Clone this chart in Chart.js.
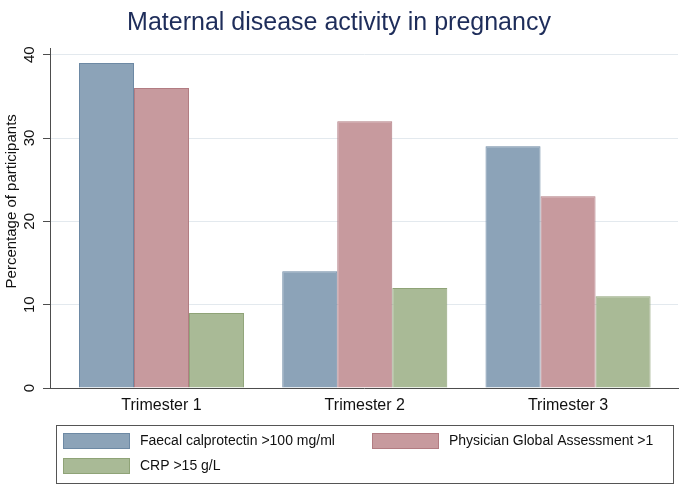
<!DOCTYPE html>
<html>
<head>
<meta charset="utf-8">
<script src="https://cdn.jsdelivr.net/npm/chart.js@4.4.0/dist/chart.umd.min.js"></script>
<style>
  html, body { margin: 0; padding: 0; background: #fff; }
</style>
</head>
<body>
<canvas id="chart" width="688" height="487"></canvas>
<script>
const categories = ['Trimester 1', 'Trimester 2', 'Trimester 3'];
const faecalCalprotectin = [39, 14, 29];
const physicianAssessment = [36, 32, 23];
const crp = [9, 12, 11];
const seriesNames = ['Faecal calprotectin >100 mg/ml', 'Physician Global Assessment >1', 'CRP >15 g/L'];
const yTicks = [0, 10, 20, 30, 40];

const FONT = '"Liberation Sans", Arial, Helvetica, sans-serif';

function toPoints(values) {
  return values.map((v, i) => ({x: i + 1, y: v}));
}

// stata style legend: framed box under the axis, two columns
const boxLegend = {
  id: 'boxLegend',
  afterDraw(chart) {
    const ctx = chart.ctx;
    const area = chart.chartArea;
    const left = area.left + 6, right = area.right - 5;
    const top = chart.scales.x.bottom + 7, height = 58;
    ctx.save();
    ctx.strokeStyle = '#555';
    ctx.lineWidth = 1;
    ctx.strokeRect(Math.round(left) + 0.5, Math.round(top) + 0.5, Math.round(right - left), height);
    ctx.font = '14px ' + FONT;
    ctx.textBaseline = 'middle';
    chart.data.datasets.forEach((ds, i) => {
      const col = i % 2, row = Math.floor(i / 2);
      const sx = Math.round(left + 7 + col * 309);
      const sy = Math.round(top + 8 + row * 25);
      ctx.fillStyle = ds.backgroundColor;
      ctx.fillRect(sx, sy, 67, 16);
      ctx.strokeStyle = ds.borderColor;
      ctx.strokeRect(sx + 0.5, sy + 0.5, 66, 15);
      ctx.fillStyle = '#111';
      ctx.fillText(ds.label, sx + 77, sy + 8.5);
    });
    ctx.restore();
  }
};

new Chart(document.getElementById('chart'), {
  type: 'bar',
  data: {
    datasets: [
      {label: seriesNames[0], data: toPoints(faecalCalprotectin), backgroundColor: '#8ca3b8', borderColor: '#6d89a4', borderWidth: 1},
      {label: seriesNames[1], data: toPoints(physicianAssessment), backgroundColor: '#c79a9e', borderColor: '#b27c82', borderWidth: 1},
      {label: seriesNames[2], data: toPoints(crp), backgroundColor: '#a9ba96', borderColor: '#8fa377', borderWidth: 1}
    ]
  },
  options: {
    responsive: false,
    animation: false,
    layout: {padding: {left: 0, right: 10, top: 0, bottom: 69}},
    datasets: {bar: {categoryPercentage: 0.812, barPercentage: 1}},
    plugins: {
      legend: {display: false},
      tooltip: {enabled: false},
      title: {
        display: true,
        text: 'Maternal disease activity in pregnancy',
        color: '#1e2d5a',
        font: {family: FONT, size: 25, weight: 'normal'},
        padding: {top: 8, bottom: 10}
      }
    },
    scales: {
      x: {
        type: 'linear',
        min: 0.4514,
        max: 3.541,
        offset: false,
        grid: {display: false, drawTicks: false, offset: false},
        border: {display: true, color: '#4d4d4d'},
        afterBuildTicks: s => { s.ticks = categories.map((c, i) => ({value: i + 1})); },
        ticks: {
          autoSkip: false, maxRotation: 0, padding: 8, color: '#111',
          font: {family: FONT, size: 16},
          callback: v => categories[v - 1]
        },
        afterFit: s => { s.height = 30; }
      },
      y: {
        min: 0,
        max: 40.8,
        afterBuildTicks: s => { s.ticks = yTicks.map(v => ({value: v})); },
        grid: {color: '#e3e9ee', tickColor: '#4d4d4d', tickLength: 7},
        border: {color: '#4d4d4d'},
        ticks: {
          minRotation: 90, maxRotation: 90, crossAlign: 'center', padding: 5,
          color: '#111', font: {family: FONT, size: 15}
        },
        title: {
          display: true,
          text: '        Percentage of participants',
          color: '#111',
          font: {family: FONT, size: 15},
          padding: {top: 3, bottom: 0}
        },
        afterFit: s => { s.width = 50; }
      }
    }
  },
  plugins: [boxLegend]
});
</script>
</body>
</html>
